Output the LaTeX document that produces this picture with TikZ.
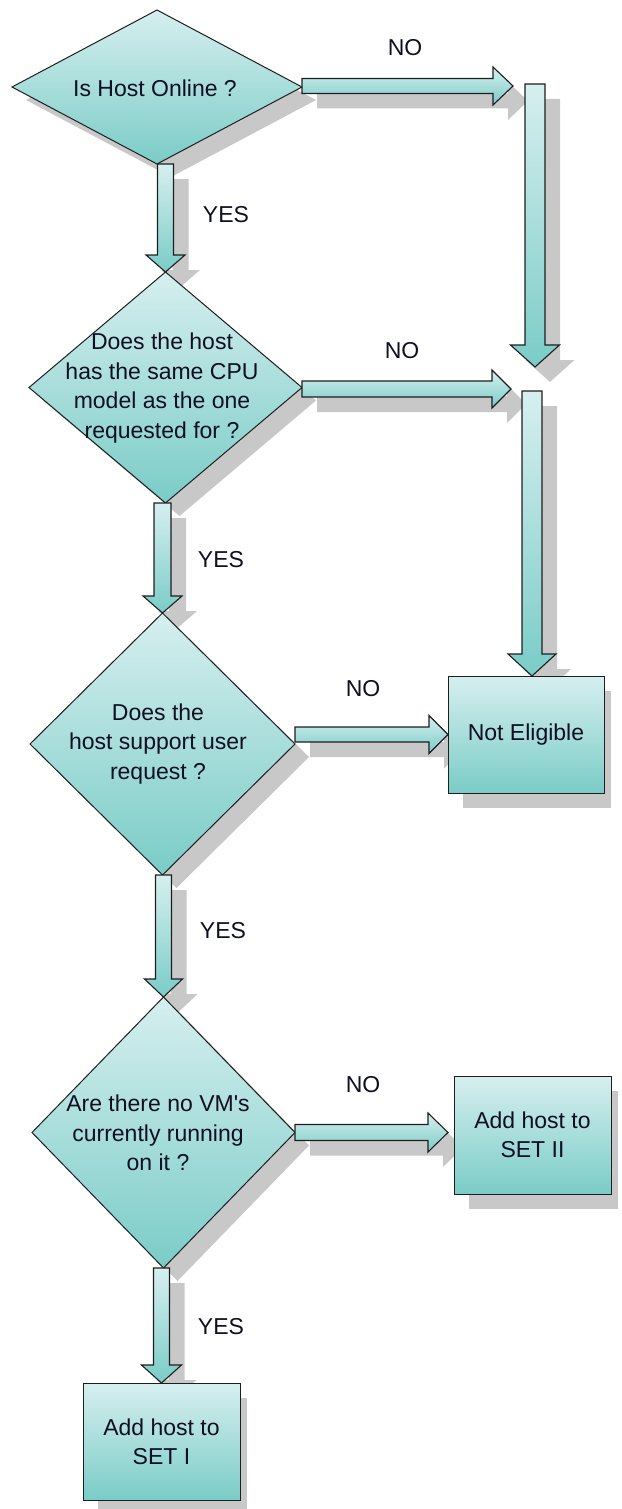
\documentclass[tikz,border=0pt]{standalone}
\usepackage{fontspec}
\setmainfont{Liberation Sans}
\usetikzlibrary{calc,shapes.geometric}
\pgfdeclarelayer{bg}
\pgfsetlayers{bg,main}
\definecolor{lightc}{RGB}{214,239,239}
\definecolor{darkc}{RGB}{122,204,199}
\definecolor{shadowc}{RGB}{200,200,200}
\definecolor{bordc}{RGB}{30,30,30}
\definecolor{txtc}{RGB}{15,15,35}
\newcommand\varrow[5]{%
 \begin{pgfonlayer}{bg}
 \fill[shadowc] let \p1=(#1),\p2=(#2) in
  (\x2-#3+15pt,\y1-15pt) -- (\x2-#3+15pt,\y2+#5-15pt) -- (\x2-#4+15pt,\y2+#5-15pt) -- (\x2+15pt,\y2-15pt) -- (\x2+#4+15pt,\y2+#5-15pt) -- (\x2+#3+15pt,\y2+#5-15pt) -- (\x2+#3+15pt,\y1-15pt) -- cycle;
 \end{pgfonlayer}
 \path[arrbody] let \p1=(#1),\p2=(#2) in
  (\x2-#3,\y1) -- (\x2-#3,\y2+#5) -- (\x2-#4,\y2+#5) -- (\x2,\y2) -- (\x2+#4,\y2+#5) -- (\x2+#3,\y2+#5) -- (\x2+#3,\y1) -- cycle;
}
\newcommand\harrow[5]{%
 \begin{pgfonlayer}{bg}
 \fill[shadowc] let \p1=(#1),\p2=(#2) in
  (\x1+15pt,\y2+#3-15pt) -- (\x2-#5+15pt,\y2+#3-15pt) -- (\x2-#5+15pt,\y2+#4-15pt) -- (\x2+15pt,\y2-15pt) -- (\x2-#5+15pt,\y2-#4-15pt) -- (\x2-#5+15pt,\y2-#3-15pt) -- (\x1+15pt,\y2-#3-15pt) -- cycle;
 \end{pgfonlayer}
 \path[arrbody] let \p1=(#1),\p2=(#2) in
  (\x1,\y2+#3) -- (\x2-#5,\y2+#3) -- (\x2-#5,\y2+#4) -- (\x2,\y2) -- (\x2-#5,\y2-#4) -- (\x2-#5,\y2-#3) -- (\x1,\y2-#3) -- cycle;
}
\begin{document}
\begin{tikzpicture}[x=1pt,y=-1pt,
  shapefill/.style={top color=lightc,bottom color=darkc,draw=bordc,line width=1pt},
  dia/.style={diamond,shapefill,inner sep=0pt,outer sep=0pt},
  box/.style={rectangle,shapefill,inner sep=0pt,outer sep=0pt,align=center,text=txtc,font=\fontsize{23}{29}\selectfont},
  txt/.style={align=center,text=txtc,font=\fontsize{23}{29.5}\selectfont,inner sep=0pt},
  arrbody/.style={top color=lightc,bottom color=darkc,draw=bordc,line width=1.1pt,line join=miter}]
\useasboundingbox (0,0) rectangle (621,1509);

\node[dia,minimum width=290pt,minimum height=154pt] (d1) at (157,87) {};
\node[txt] (t1) at (155,88) {Is Host Online ?};
\node[dia,minimum width=273pt,minimum height=231pt] (d2) at (165.5,387.5) {};
\node[txt] (t2) at (162,388) {Does the host\\has the same CPU\\model as the one\\requested for ?};
\node[dia,minimum width=265pt,minimum height=262pt] (d3) at (162.5,744) {};
\node[txt] (t3) at (158,744) {Does the\\host support user\\request ?};
\node[dia,minimum width=263pt,minimum height=271pt] (d4) at (163.5,1132.5) {};
\node[txt] (t4) at (158,1133) {Are there no VM\textquotesingle s\\currently running\\on it ?};
\node[box,minimum width=156pt,minimum height=117pt] (ne) at (526,734.5) {Not Eligible};
\node[box,minimum width=157pt,minimum height=118pt] (s2) at (532.5,1135) {Add host to\\SET II};
\node[box,minimum width=157pt,minimum height=117pt] (s1) at (161.5,1441.5) {Add host to\\SET I};

\begin{pgfonlayer}{bg}
\foreach \n in {d1,d2,d3,d4}
  \fill[shadowc] ([shift={(14pt,-13pt)}]\n.north) -- ([shift={(14pt,-13pt)}]\n.east) -- ([shift={(14pt,-13pt)}]\n.south) -- ([shift={(14pt,-13pt)}]\n.west) -- cycle;
\foreach \n in {ne,s1,s2}
  \fill[shadowc] ([shift={(15pt,-15pt)}]\n.north west) rectangle ([shift={(7pt,-15pt)}]\n.south east);
\end{pgfonlayer}

\coordinate (c1) at (513,86);
\coordinate (c2) at (537,84);
\coordinate (c3) at (535,367);
\coordinate (c4) at (511,389);
\coordinate (c5) at (532,391);

\varrow{d1.south}{d2.north}{8pt}{19.5pt}{17pt}
\varrow{d2.south}{d3.north}{8.5pt}{19.5pt}{17pt}
\varrow{d3.south}{d4.north}{8pt}{19pt}{18pt}
\varrow{d4.south}{s1.north}{8pt}{20pt}{18pt}
\harrow{d1.east}{c1}{7.5pt}{19pt}{20pt}
\varrow{c2}{c3}{10pt}{24.5pt}{22pt}
\harrow{d2.east}{c4}{8pt}{19pt}{19pt}
\varrow{c5}{c5 |- ne.north}{10pt}{24pt}{22pt}
\harrow{d3.east}{ne.west}{7.5pt}{19pt}{19pt}
\harrow{d4.east}{$(d4.east -| s2.west)+(-6,0)$}{8pt}{19.5pt}{20pt}

\node[txt] (no1) at (405,48) {NO};
\node[txt] (yes1) at (226,215) {YES};
\node[txt] (no2) at (402,351) {NO};
\node[txt] (yes2) at (221,560) {YES};
\node[txt] (no3) at (363,689) {NO};
\node[txt] (yes3) at (223,931) {YES};
\node[txt] (no4) at (363,1085) {NO};
\node[txt] (yes4) at (221,1327) {YES};
\end{tikzpicture}
\end{document}
